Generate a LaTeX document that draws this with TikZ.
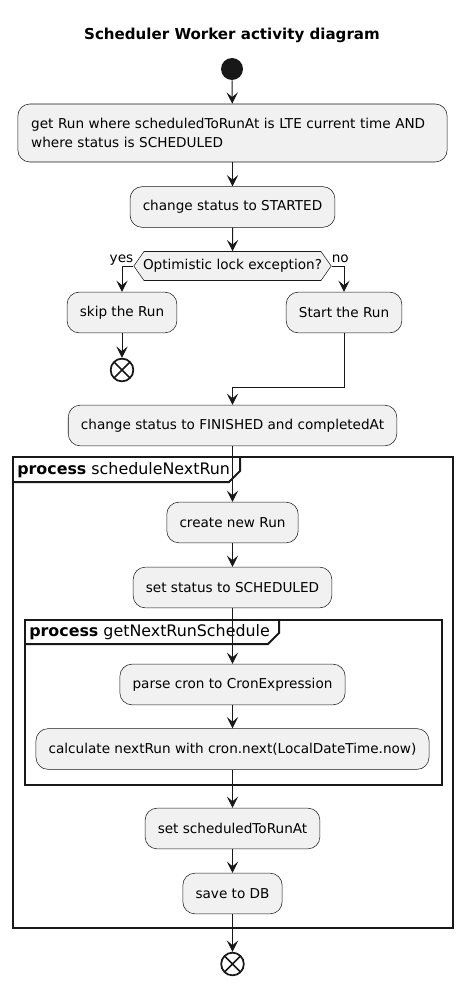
\documentclass[tikz,border=0pt]{standalone}
\usepackage{fontspec}
\setmainfont{DejaVu Sans}
\usepackage{tikz}
\usetikzlibrary{arrows.meta,shapes.symbols}
\definecolor{ink}{HTML}{181818}
\definecolor{actfill}{HTML}{F1F1F1}
\newcommand{\txt}{\fontsize{10.2}{14}\selectfont}
\newcommand{\proc}[1]{\textbf{process} #1}
\tikzset{
  act/.style={draw=ink,fill=actfill,rounded corners=9pt,line width=0.4pt,font=\txt,inner xsep=9.5pt,inner ysep=4pt,minimum height=30.5pt,align=left},
  dec/.style={draw=ink,fill=actfill,signal,signal to=west and east,signal pointer angle=110,line width=0.4pt,font=\txt,minimum height=21.75pt,inner xsep=-0.7pt,inner ysep=1pt},
  lbl/.style={font=\txt,inner sep=0pt},
  ttl/.style={font=\fontsize{11.3}{13}\selectfont\bfseries,inner sep=0pt},
  tab/.style={font=\fontsize{11.9}{13}\selectfont,inner sep=0pt,anchor=west},
  frm/.style={ink,line width=1.5pt},
  startdot/.style={circle,fill=ink,minimum size=16.5pt,inner sep=0pt},
  stopdot/.style={circle,draw=ink,fill=white,line width=1.3pt,minimum size=17pt,inner sep=0pt,
    path picture={\draw[ink,line width=1.3pt] (path picture bounding box.south west) -- (path picture bounding box.north east)
      (path picture bounding box.north west) -- (path picture bounding box.south east);}},
  arr/.style={-{Stealth[length=8.5pt,width=8.5pt,inset=3.5pt]},ink,line width=0.75pt},
}
\begin{document}
\begin{tikzpicture}[x=0.75pt,y=-0.75pt]
\useasboundingbox (0,0) rectangle (464,988);
\node[ttl] (title) at (232,35) {Scheduler Worker activity diagram};
\node[startdot] (start) at (232,69) {};
\node[act,minimum height=43.5pt,text width=302pt,inner xsep=10pt] (get) at (232.5,133) {get Run where scheduledToRunAt is LTE current time AND\\where status is SCHEDULED};
\node[act] (started) at (232.5,207) {change status to STARTED};
\node[dec] (lock) at (232.5,266) {Optimistic lock exception?};
\node[act] (skip) at (122,312.5) {skip the Run};
\node[stopdot] (endA) at (122,370) {};
\node[act] (run) at (344,312.5) {Start the Run};
\coordinate (join) at (232.5,387);
\node[act] (finished) at (232.5,425.5) {change status to FINISHED and completedAt};
% process scheduleNextRun
\draw[frm] (13,457) rectangle (453,928);
\node[tab] (tabA) at (17,470) {\proc{scheduleNextRun}};
\draw[frm] (13,482) -- (229,482) -- (240,471) -- (240,457);
\node[act] (create) at (232.5,522.5) {create new Run};
\node[act] (sched) at (232.5,587.5) {set status to SCHEDULED};
% process getNextRunSchedule
\draw[frm] (25,620) rectangle (442,785);
\node[tab] (tabB) at (29,632) {\proc{getNextRunSchedule}};
\draw[frm] (25,644) -- (268,644) -- (279,633) -- (279,620);
\node[act] (parse) at (232.5,684.5) {parse cron to CronExpression};
\node[act] (calc) at (232.5,749) {calculate nextRun with cron.next(LocalDateTime.now)};
\node[act] (setat) at (232.5,828.5) {set scheduledToRunAt};
\node[act] (save) at (232.5,893.5) {save to DB};
\node[stopdot] (endB) at (232.5,964) {};
\draw[arr] (start) -- (get);
\draw[arr] (get) -- (started);
\draw[arr] (started) -- (lock);
\draw[arr] (lock.west) -| (skip.north);
\node[lbl,anchor=base east] (yes) at ([yshift=2.5pt]lock.west) {yes};
\draw[arr] (lock.east) -| (run.north);
\node[lbl,anchor=base west] (no) at ([yshift=2.5pt]lock.east) {no};
\draw[arr] (skip) -- (endA);
\draw[arr] (run.south) |- (join) -- (finished);
\draw[arr] (finished) -- (create);
\draw[arr] (create) -- (sched);
\draw[arr] (sched) -- (parse);
\draw[arr] (parse) -- (calc);
\draw[arr] (calc) -- (setat);
\draw[arr] (setat) -- (save);
\draw[arr] (save) -- (endB);
\end{tikzpicture}
\end{document}
